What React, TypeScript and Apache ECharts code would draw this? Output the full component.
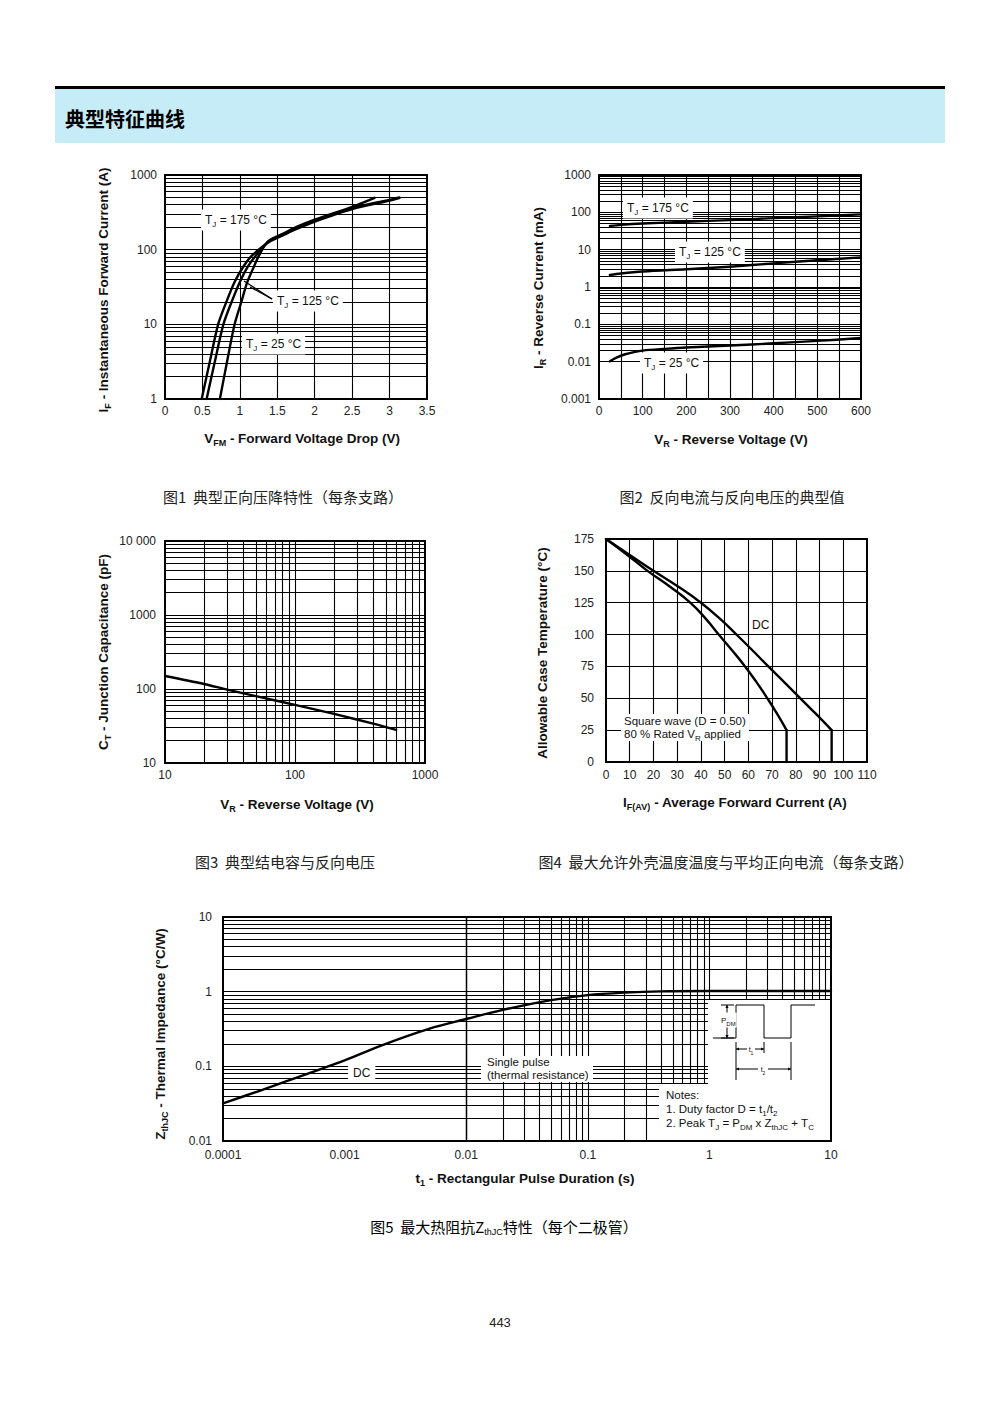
import React, { useEffect, useRef } from 'react';
import * as echarts from 'echarts';

const F = "'Liberation Sans', Arial, Helvetica, sans-serif";
const CJK = "'Noto Sans CJK SC', 'Noto Sans', sans-serif";

// ---------- Figure 1: IF vs VFM ----------
const fig1_tj175: number[][] = [[0.49, 1], [0.6, 3.2], [0.71, 10], [0.82, 20], [0.93, 37], [1.05, 60], [1.17, 85], [1.38, 125], [1.6, 160], [1.75, 188], [2.0, 238], [2.5, 350], [3.0, 455], [3.13, 490]];
const fig1_tj125: number[][] = [[0.556, 1], [0.667, 3.2], [0.78, 10], [0.89, 20], [1.0, 37], [1.11, 60], [1.22, 85], [1.38, 128], [1.6, 163], [1.75, 193], [2.0, 244], [2.5, 360], [3.0, 465], [3.13, 500]];
const fig1_tj25: number[][] = [[0.733, 1], [0.83, 3.2], [0.93, 10], [1.02, 20], [1.1, 37], [1.19, 60], [1.26, 85], [1.38, 130], [1.6, 168], [1.75, 200], [2.0, 252], [2.5, 375], [2.8, 495]];
const fig1_yLabels: Record<number, string> = { 0: '1', 1: '10', 2: '100', 3: '1000' };

// ---------- Figure 2: IR vs VR ----------
const fig2_tj175: number[][] = [[25, 43], [50, 46], [100, 50], [200, 56], [300, 62], [400, 70], [500, 78], [600, 88]];
const fig2_tj125: number[][] = [[25, 2.1], [50, 2.3], [100, 2.6], [200, 3.0], [300, 3.5], [400, 4.3], [500, 5.2], [600, 6.2]];
const fig2_tj25: number[][] = [[25, 0.0102], [40, 0.0128], [60, 0.0158], [80, 0.018], [100, 0.0198], [150, 0.022], [200, 0.024], [300, 0.027], [400, 0.031], [500, 0.036], [600, 0.043]];
const fig2_yLabels: Record<number, string> = { [-3]: '0.001', [-2]: '0.01', [-1]: '0.1', 0: '1', 1: '10', 2: '100', 3: '1000' };

// ---------- Figure 3: CT vs VR ----------
const fig3_ct: number[][] = [[10, 150], [20, 117], [30, 98], [50, 80], [100, 61], [200, 46], [400, 34], [600, 28]];
const fig3_xLabels: Record<number, string> = { 1: '10', 2: '100', 3: '1000' };
const fig3_yLabels: Record<number, string> = { 1: '10', 2: '100', 3: '1000', 4: '10 000' };

// ---------- Figure 4: Tc vs IF(AV) ----------
const fig4_square: number[][] = [[0, 175], [9, 162.5], [17.5, 150], [27, 137.5], [35.5, 125], [42, 112.5], [47.5, 100], [53.2, 87.5], [58.6, 75], [63.5, 62.5], [68, 50], [72.2, 37.5], [76.1, 25]];
const fig4_squareDrop: number[][] = [[76.1, 25], [76.1, 0]];
const fig4_dc: number[][] = [[0, 175], [10, 162.5], [20, 150], [30.5, 137.5], [40, 125], [48, 112.5], [55, 100], [61.8, 87.5], [68.4, 75], [75.2, 62.5], [81.9, 50], [88.6, 37.5], [95.1, 25]];
const fig4_dcDrop: number[][] = [[95.1, 25], [95.1, 0]];

// ---------- Figure 5: ZthJC vs t1 ----------
const fig5_z: number[][] = [[0.0001, 0.032], [0.0002, 0.047], [0.0005, 0.08], [0.001, 0.12], [0.002, 0.19], [0.005, 0.32], [0.01, 0.43], [0.02, 0.57], [0.05, 0.77], [0.1, 0.9], [0.2, 0.97], [0.4, 1.01], [1, 1.02], [10, 1.02]];
const fig5_xLabels: Record<number, string> = { [-4]: '0.0001', [-3]: '0.001', [-2]: '0.01', [-1]: '0.1', 0: '1', 1: '10' };
const fig5_yLabels: Record<number, string> = { [-2]: '0.01', [-1]: '0.1', 0: '1', 1: '10' };

function logLines(lo: number, hi: number): number[] {
  const out: number[] = [];
  const e0 = Math.round(Math.log10(lo));
  const e1 = Math.round(Math.log10(hi));
  for (let e = e0; e < e1; e++) {
    for (let m = 1; m < 10; m++) {
      if (e === e0 && m === 1) continue;
      out.push(parseFloat((m * Math.pow(10, e)).toPrecision(6)));
    }
  }
  return out;
}
function linLines(lo: number, hi: number, step: number): number[] {
  const out: number[] = [];
  for (let v = lo + step; v < hi - 1e-9; v += step) out.push(parseFloat(v.toFixed(4)));
  return out;
}
const logFmt = (map: Record<number, string>) => (v: number) => map[Math.round(Math.log10(v))] ?? '';

const label = (margin: number, extra: any = {}) => ({
  fontFamily: F, fontSize: 12, color: '#222', margin, showMinLabel: true, showMaxLabel: true, ...extra,
});

function gridSeries(i: number, h: number[], v: number[]) {
  return {
    type: 'line', xAxisIndex: i, yAxisIndex: i, data: [], silent: true, z: 1,
    markLine: {
      silent: true, symbol: ['none', 'none'], animation: false,
      label: { show: false },
      lineStyle: { color: '#000', width: 1.1, type: 'solid' },
      emphasis: { disabled: true },
      data: [...h.map((y) => ({ yAxis: y })), ...v.map((x) => ({ xAxis: x }))],
    },
  };
}
function curve(i: number, data: number[][], smooth: number | boolean = 0.3) {
  return {
    type: 'line', xAxisIndex: i, yAxisIndex: i, data, showSymbol: false, symbol: 'none',
    smooth, z: 5, silent: true,
    lineStyle: { color: '#000', width: 2.4, cap: 'round', join: 'round' },
  };
}

const rich = (size: number, weight: string = 'normal', color = '#111', family = F) => ({
  n: { fontFamily: family, fontSize: size, fontWeight: weight, color, lineHeight: size + 3 },
  s: { fontFamily: F, fontSize: Math.round(size * 0.7), fontWeight: weight, color, verticalAlign: 'bottom', lineHeight: size + 5 },
});

function txt(x: number, y: number, text: string, size: number, opt: any = {}) {
  const { weight = 'normal', align = 'left', rotate = 0, bg, color = '#111', family = F, pad } = opt;
  return {
    type: 'text', x, y, z: 100, rotation: rotate, silent: true,
    style: {
      text, align, verticalAlign: 'middle', rich: rich(size, weight, color, family),
      fontFamily: family, fontSize: size, fontWeight: weight, fill: color,
      backgroundColor: bg, padding: pad,
    },
  };
}
const line = (x1: number, y1: number, x2: number, y2: number, w = 1) => ({
  type: 'line', z: 100, silent: true, shape: { x1, y1, x2, y2 }, style: { stroke: '#000', lineWidth: w },
});
const arrow = (x: number, y: number, dir: 'l' | 'r' | 'u' | 'd') => {
  const s = 3;
  const pts = dir === 'l' ? [[x, y], [x + s, y - 1.6], [x + s, y + 1.6]]
    : dir === 'r' ? [[x, y], [x - s, y - 1.6], [x - s, y + 1.6]]
      : dir === 'u' ? [[x, y], [x - 1.6, y + s], [x + 1.6, y + s]]
        : [[x, y], [x - 1.6, y - s], [x + 1.6, y - s]];
  return { type: 'polygon', z: 100, silent: true, shape: { points: pts }, style: { fill: '#000' } };
};

export default function App() {
  const ref = useRef<HTMLDivElement>(null);
  useEffect(() => {
    if (!ref.current) return;
    const chart = echarts.init(ref.current, undefined, { renderer: 'svg' });
    const gridCommon = { show: true, borderColor: '#000', borderWidth: 2, backgroundColor: 'transparent', containLabel: false };
    const noLine = { axisLine: { show: false }, axisTick: { show: false }, splitLine: { show: false } };
    const option: any = {
      animation: false,
      backgroundColor: '#fff',
      grid: [
        { ...gridCommon, left: 165, top: 175, width: 262, height: 224 },
        { ...gridCommon, left: 599, top: 175, width: 262, height: 224 },
        { ...gridCommon, left: 165, top: 541, width: 260, height: 222 },
        { ...gridCommon, left: 606, top: 539, width: 261, height: 223 },
        { ...gridCommon, left: 223, top: 917, width: 608, height: 224 },
      ],
      xAxis: [
        { gridIndex: 0, type: 'value', min: 0, max: 3.5, interval: 0.5, ...noLine, axisLabel: label(6) },
        { gridIndex: 1, type: 'value', min: 0, max: 600, interval: 50, ...noLine, axisLabel: label(6, { formatter: (v: number) => (v % 100 === 0 ? String(v) : '') }) },
        { gridIndex: 2, type: 'log', logBase: 10, min: 10, max: 1000, ...noLine, axisLabel: label(6, { formatter: logFmt(fig3_xLabels) }) },
        { gridIndex: 3, type: 'value', min: 0, max: 110, interval: 10, ...noLine, axisLabel: label(7) },
        { gridIndex: 4, type: 'log', logBase: 10, min: 0.0001, max: 10, ...noLine, axisLabel: label(8, { formatter: logFmt(fig5_xLabels) }) },
      ],
      yAxis: [
        { gridIndex: 0, type: 'log', logBase: 10, min: 1, max: 1000, ...noLine, axisLabel: label(8, { formatter: logFmt(fig1_yLabels) }) },
        { gridIndex: 1, type: 'log', logBase: 10, min: 0.001, max: 1000, ...noLine, axisLabel: label(8, { formatter: logFmt(fig2_yLabels) }) },
        { gridIndex: 2, type: 'log', logBase: 10, min: 10, max: 10000, ...noLine, axisLabel: label(9, { formatter: logFmt(fig3_yLabels) }) },
        { gridIndex: 3, type: 'value', min: 0, max: 175, interval: 25, ...noLine, axisLabel: label(12) },
        { gridIndex: 4, type: 'log', logBase: 10, min: 0.01, max: 10, ...noLine, axisLabel: label(11, { formatter: logFmt(fig5_yLabels) }) },
      ],
      series: [
        gridSeries(0, logLines(1, 1000), linLines(0, 3.5, 0.5)),
        gridSeries(1, logLines(0.001, 1000), linLines(0, 600, 50)),
        gridSeries(2, logLines(10, 10000), logLines(10, 1000)),
        gridSeries(3, linLines(0, 175, 25), linLines(0, 110, 10)),
        gridSeries(4, logLines(0.01, 10), logLines(0.0001, 10)),
        curve(0, fig1_tj175), curve(0, fig1_tj125), curve(0, fig1_tj25),
        curve(1, fig2_tj175), curve(1, fig2_tj125), curve(1, fig2_tj25),
        curve(2, fig3_ct),
        curve(3, fig4_square, 0.5), curve(3, fig4_squareDrop, false),
        curve(3, fig4_dc, 0.5), curve(3, fig4_dcDrop, false),
        curve(4, fig5_z),
      ],
      graphic: [
        // header
        { type: 'rect', z: 100, silent: true, shape: { x: 55, y: 86, width: 890, height: 3 }, style: { fill: '#000' } },
        { type: 'rect', z: 100, silent: true, shape: { x: 55, y: 89, width: 890, height: 54 }, style: { fill: '#c6ecf8' } },
        txt(65, 118, '{n|典型特征曲线}', 20, { weight: 'bold', family: CJK, color: '#000' }),

        // fig1 annotations
        line(272, 299, 244, 281, 1.2), line(272, 299, 250, 287, 1.2),
        txt(201, 220, '{n|T}{s|J}{n| = 175 °C}', 12, { bg: '#fff', pad: [2, 4, 2, 4] }),
        txt(273, 301, '{n|T}{s|J}{n| = 125 °C}', 12, { bg: '#fff', pad: [2, 4, 2, 4] }),
        txt(242, 344, '{n|T}{s|J}{n| = 25 °C}', 12, { bg: '#fff', pad: [2, 4, 2, 4] }),
        // fig1 axis titles
        txt(103, 290, '{n|I}{s|F}{n| - Instantaneous Forward Current (A)}', 13.5, { weight: 'bold', align: 'center', rotate: Math.PI / 2 }),
        txt(302, 438, '{n|V}{s|FM}{n| - Forward Voltage Drop (V)}', 13.5, { weight: 'bold', align: 'center' }),

        // fig2 annotations
        txt(623, 208, '{n|T}{s|J}{n| = 175 °C}', 12, { bg: '#fff', pad: [2, 4, 2, 4] }),
        txt(675, 252, '{n|T}{s|J}{n| = 125 °C}', 12, { bg: '#fff', pad: [2, 4, 2, 4] }),
        txt(640, 363, '{n|T}{s|J}{n| = 25 °C}', 12, { bg: '#fff', pad: [2, 4, 2, 4] }),
        txt(538, 288, '{n|I}{s|R}{n| - Reverse Current (mA)}', 13.5, { weight: 'bold', align: 'center', rotate: Math.PI / 2 }),
        txt(731, 439, '{n|V}{s|R}{n| - Reverse Voltage (V)}', 13.5, { weight: 'bold', align: 'center' }),

        // fig3
        txt(103, 652, '{n|C}{s|T}{n| - Junction Capacitance (pF)}', 13.5, { weight: 'bold', align: 'center', rotate: Math.PI / 2 }),
        txt(297, 804, '{n|V}{s|R}{n| - Reverse Voltage (V)}', 13.5, { weight: 'bold', align: 'center' }),

        // fig4
        txt(752, 625, '{n|DC}', 12),
        { type: 'rect', z: 99, silent: true, shape: { x: 621, y: 714, width: 128, height: 27 }, style: { fill: '#fff' } },
        txt(624, 721, '{n|Square wave (D = 0.50)}', 11.5),
        txt(624, 734, '{n|80 % Rated V}{s|R}{n| applied}', 11.5),
        txt(542, 653, '{n|Allowable Case Temperature (°C)}', 13.5, { weight: 'bold', align: 'center', rotate: Math.PI / 2 }),
        txt(735, 802, '{n|I}{s|F(AV)}{n| - Average Forward Current (A)}', 13.5, { weight: 'bold', align: 'center' }),

        // fig5
        txt(348, 1073, '{n|DC}', 12, { bg: '#fff', pad: [2, 5, 2, 5] }),
        { type: 'rect', z: 99, silent: true, shape: { x: 481, y: 1056, width: 112, height: 26 }, style: { fill: '#fff' } },
        txt(487, 1062, '{n|Single pulse}', 11.5),
        txt(487, 1075, '{n|(thermal resistance)}', 11.5),
        { type: 'rect', z: 99, silent: true, shape: { x: 708, y: 1000, width: 122, height: 84 }, style: { fill: '#fff' } },
        { type: 'rect', z: 99, silent: true, shape: { x: 659, y: 1084, width: 171, height: 56 }, style: { fill: '#fff' } },
        { type: 'polyline', z: 100, silent: true, shape: { points: [[713, 1038], [736, 1038], [736, 1005], [764, 1005], [764, 1038], [791, 1038], [791, 1005], [815, 1005]] }, style: { stroke: '#000', lineWidth: 1, fill: 'none' } },
        line(721, 1005, 734, 1005), line(721, 1038, 734, 1038), line(727, 1005, 727, 1038),
        arrow(727, 1005, 'u'), arrow(727, 1038, 'd'),
        txt(720, 1020, '{n|P}{s|DM}', 8, { bg: '#fff', pad: [1, 1, 1, 1] }),
        line(736, 1042, 736, 1080), line(764, 1042, 764, 1053), line(791, 1042, 791, 1080),
        line(736, 1049, 747, 1049), line(755, 1049, 764, 1049), arrow(736, 1049, 'l'), arrow(764, 1049, 'r'),
        txt(751, 1049, '{n|t}{s|1}', 7, { align: 'center' }),
        line(736, 1069, 758, 1069), line(768, 1069, 791, 1069), arrow(736, 1069, 'l'), arrow(791, 1069, 'r'),
        txt(763, 1069, '{n|t}{s|2}', 7, { align: 'center' }),
        txt(666, 1095, '{n|Notes:}', 11.5),
        txt(666, 1109, '{n|1. Duty factor D = t}{s|1}{n|/t}{s|2}', 11.5),
        txt(666, 1123, '{n|2. Peak T}{s|J}{n| = P}{s|DM}{n| x Z}{s|thJC}{n| + T}{s|C}', 11.5),
        txt(160, 1034, '{n|Z}{s|thJC}{n| - Thermal Impedance (°C/W)}', 13.5, { weight: 'bold', align: 'center', rotate: Math.PI / 2 }),
        txt(525, 1178, '{n|t}{s|1}{n| - Rectangular Pulse Duration (s)}', 13.5, { weight: 'bold', align: 'center' }),

        // captions
        txt(283, 496, '{n|图1  典型正向压降特性（每条支路）}', 15, { align: 'center', family: CJK, color: '#222' }),
        txt(732, 496, '{n|图2  反向电流与反向电压的典型值}', 15, { align: 'center', family: CJK, color: '#222' }),
        txt(285, 861, '{n|图3  典型结电容与反向电压}', 15, { align: 'center', family: CJK, color: '#222' }),
        txt(726, 861, '{n|图4  最大允许外壳温度温度与平均正向电流（每条支路）}', 15, { align: 'center', family: CJK, color: '#222' }),
        {
          type: 'text', x: 504, y: 1226, z: 100, silent: true,
          style: {
            text: '{n|图5  最大热阻抗Z}{s|thJC}{n|特性（每个二极管）}', align: 'center', verticalAlign: 'middle',
            rich: {
              n: { fontFamily: CJK, fontSize: 15, color: '#222', lineHeight: 18 },
              s: { fontFamily: F, fontSize: 9, color: '#222', verticalAlign: 'bottom', lineHeight: 21 },
            },
          },
        },
        txt(500, 1322, '{n|443}', 13, { align: 'center', color: '#222' }),
      ],
    };
    chart.setOption(option);
    return () => chart.dispose();
  }, []);
  return <div ref={ref} style={{ position: 'absolute', left: 0, top: 0, width: 1000, height: 1414 }} />;
}
